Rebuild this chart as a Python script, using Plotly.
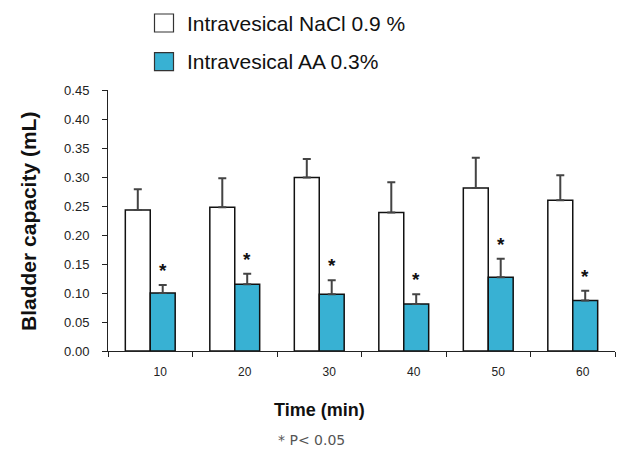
import plotly.graph_objects as go

times = ["10", "20", "30", "40", "50", "60"]
nacl = [0.243, 0.248, 0.299, 0.239, 0.281, 0.260]
nacl_err = [0.036, 0.050, 0.032, 0.052, 0.052, 0.043]
aa = [0.100, 0.115, 0.098, 0.081, 0.127, 0.087]
aa_err = [0.014, 0.018, 0.024, 0.017, 0.032, 0.017]
y_ticks = [0.00, 0.05, 0.10, 0.15, 0.20, 0.25, 0.30, 0.35, 0.40, 0.45]
series_names = ["Intravesical NaCl 0.9 %", "Intravesical AA 0.3%"]
series_colors = ["white", "#38B1D3"]

FONT = "Liberation Sans, Arial, sans-serif"
W, H = 635, 450
ML, MR, MT, MB = 108, 20, 90, 99
PW, PH = W - ML - MR, H - MT - MB


def px(x):
    return (x - ML) / PW


def py(y):
    return (H - MB - y) / PH


fig = go.Figure()
for name, col, vals, errs in [(series_names[0], series_colors[0], nacl, nacl_err),
                              (series_names[1], series_colors[1], aa, aa_err)]:
    fig.add_trace(go.Bar(
        x=times, y=vals, name=name,
        marker=dict(color=col, line=dict(color="#111111", width=1.5)),
        error_y=dict(type="data", array=errs, arrayminus=[0]*6, symmetric=False,
                     color="#444444", thickness=2, width=4),
        showlegend=False,
    ))

for i, (v, e) in enumerate(zip(aa, aa_err)):
    fig.add_annotation(x=i, y=v + e, text="<b>*</b>", showarrow=False,
                       xshift=12.5, yshift=2, yanchor="bottom",
                       font=dict(family=FONT, size=19, color="#111111"))

# manual legend
for k, (name, col) in enumerate(zip(series_names, series_colors)):
    cy = 23 + k * 38.7
    fig.add_shape(type="rect", xref="paper", yref="paper",
                  x0=px(154.5), x1=px(173.5), y0=py(cy - 9), y1=py(cy + 9),
                  fillcolor=col, line=dict(color="#333333", width=1.2))
    fig.add_annotation(xref="paper", yref="paper", x=px(185), y=py(cy),
                       xanchor="left", yanchor="middle", text=name, showarrow=False,
                       font=dict(family=FONT, size=21, color="#111111"))

fig.add_annotation(xref="paper", yref="paper", x=px(28), y=py(222),
                   xanchor="center", yanchor="middle", textangle=-90,
                   text="<b>Bladder capacity (mL)</b>", showarrow=False,
                   font=dict(family=FONT, size=21, color="#111111"))
fig.add_annotation(xref="paper", yref="paper", x=px(319), y=py(410), yanchor="middle",
                   text="<b>Time (min)</b>", showarrow=False,
                   font=dict(family=FONT, size=18, color="#111111"))
fig.add_annotation(xref="paper", yref="paper", x=px(311), y=py(440), yanchor="middle",
                   text="* P< 0.05", showarrow=False,
                   font=dict(family="DejaVu Sans, sans-serif", size=14, color="#555555"))

fig.update_layout(
    width=W, height=H,
    margin=dict(l=ML, r=MR, t=MT, b=MB),
    plot_bgcolor="white", paper_bgcolor="white",
    barmode="group", bargap=0.41, bargroupgap=0,
    font=dict(family=FONT, color="#222222"),
    showlegend=False,
    xaxis=dict(type="category", showline=True, linecolor="#222222", linewidth=1,
               ticks="outside", ticklen=5, tickcolor="#222222",
               tickson="boundaries", tickfont=dict(size=12, color="#222222"),
               ticklabelstandoff=10, ticklabelshift=10,
               showgrid=False, zeroline=False, automargin=False),
    yaxis=dict(range=[0, 0.45], tickvals=y_ticks, tickformat=".2f",
               showline=True, linecolor="#222222", linewidth=1,
               ticks="outside", ticklen=5, tickcolor="#222222",
               tickfont=dict(size=13, color="#222222"), ticklabelstandoff=10,
               showgrid=False, zeroline=False, automargin=False),
)

fig.write_html("out.html", config={"displayModeBar": False},
               post_script="document.body.style.margin='0';document.body.style.padding='0';")
